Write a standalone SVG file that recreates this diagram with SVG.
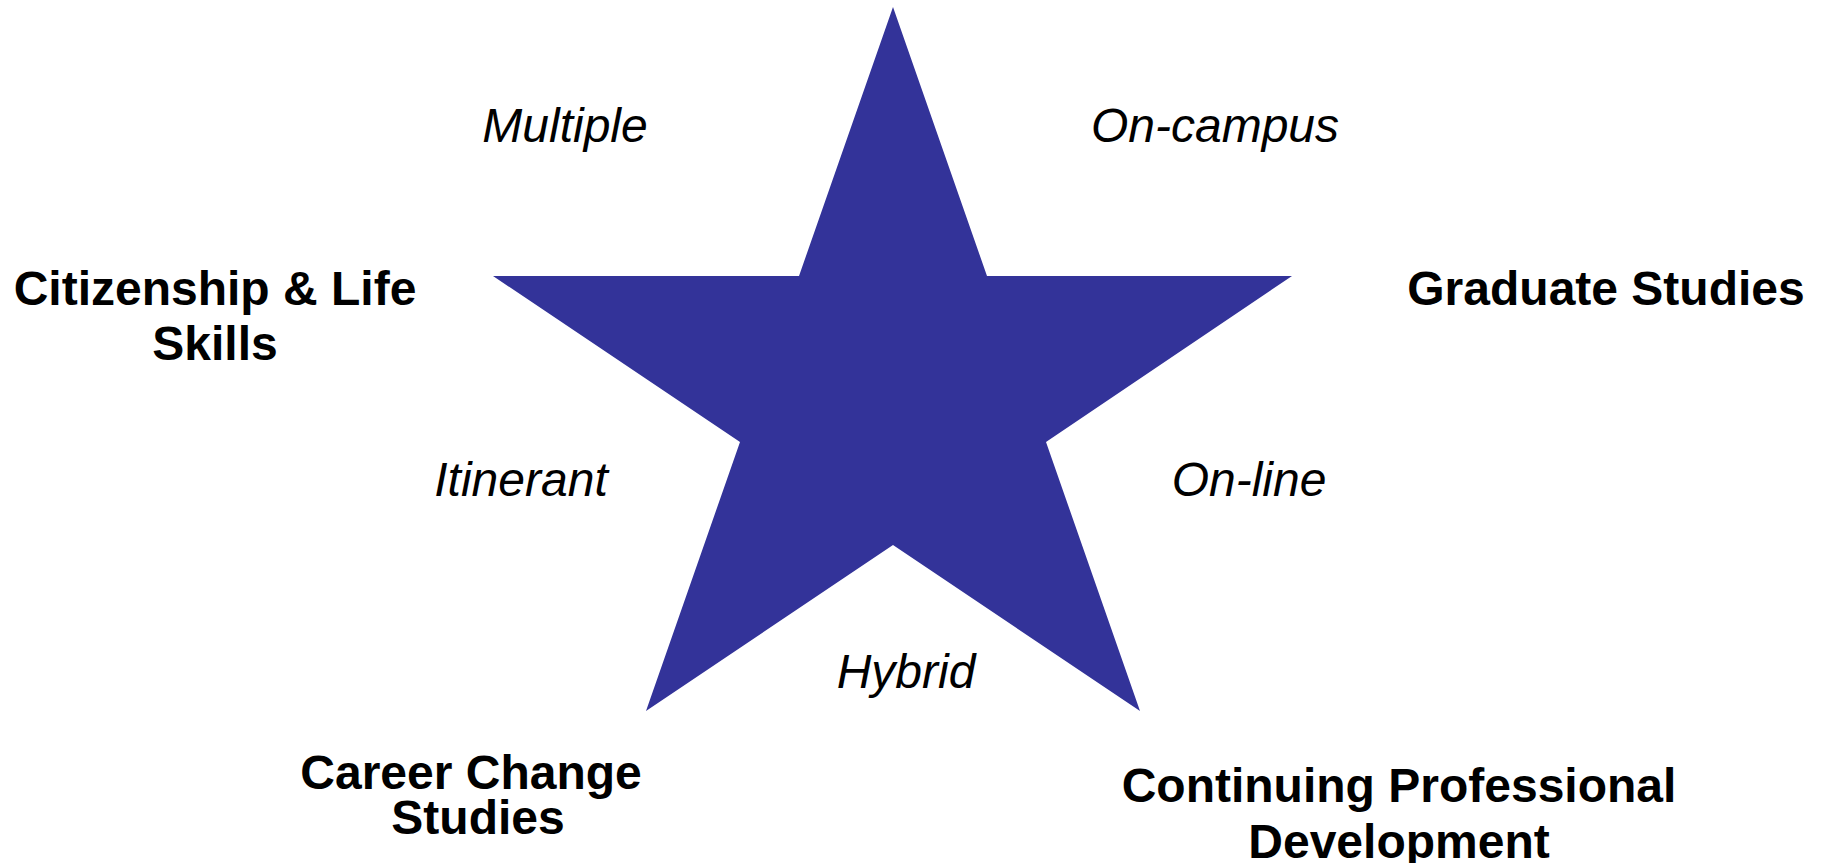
<svg xmlns="http://www.w3.org/2000/svg" width="1821" height="863" viewBox="0 0 1821 863">
<style>
.lbl{font-family:"Liberation Sans",Arial,sans-serif;font-weight:bold;font-size:48px;fill:#000;text-anchor:middle}
.mode{font-family:"Liberation Sans",Arial,sans-serif;font-style:italic;font-size:48px;fill:#000;text-anchor:middle}
</style>
<rect width="1821" height="863" fill="#fff"/>
<g id="star">
<polygon points="893,7 987,276 1292,276 1046,442 1140,711 893,545 646,711 740,442 493,276 799,276" fill="#333399"/>
</g>
<g id="connectors"></g>
<g id="node-citizenship"><text class="lbl" x="215" y="305">Citizenship &amp; Life</text><text class="lbl" x="215" y="360">Skills</text></g>
<g id="node-graduate"><text class="lbl" x="1606" y="305">Graduate Studies</text></g>
<g id="node-career"><text class="lbl" x="471" y="789">Career Change</text><text class="lbl" x="478" y="834">Studies</text></g>
<g id="node-continuing"><text class="lbl" x="1399" y="802">Continuing Professional</text><text class="lbl" x="1399" y="858">Development</text></g>
<g id="mode-multiple"><text class="mode" x="565" y="142">Multiple</text></g>
<g id="mode-oncampus"><text class="mode" x="1215" y="142">On-campus</text></g>
<g id="mode-itinerant"><text class="mode" x="521" y="496">Itinerant</text></g>
<g id="mode-online"><text class="mode" x="1249" y="496">On-line</text></g>
<g id="mode-hybrid"><text class="mode" x="906" y="688">Hybrid</text></g>
</svg>
